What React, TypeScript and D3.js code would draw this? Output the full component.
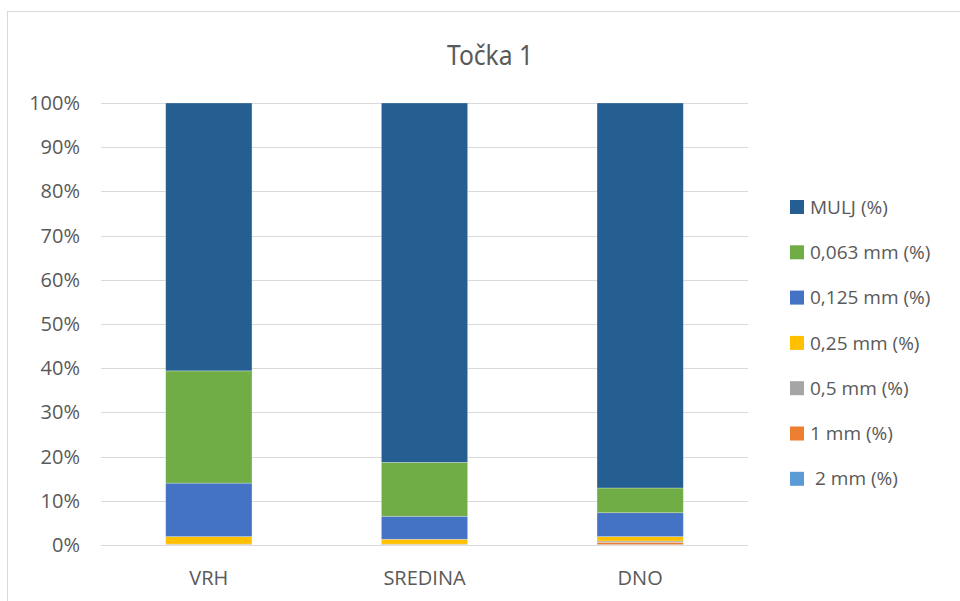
import * as d3 from "d3";
import { useEffect, useRef } from "react";

const categories = ["VRH", "SREDINA", "DNO"];
// series from bottom of the stack to the top
const seriesNames = ["2 mm (%)", "1 mm (%)", "0,5 mm (%)", "0,25 mm (%)", "0,125 mm (%)", "0,063 mm (%)", "MULJ (%)"];
const mm2 = [0.0, 0.0, 0.1];
const mm1 = [0.1, 0.1, 0.5];
const mm05 = [0.1, 0.1, 0.3];
const mm025 = [1.7, 1.1, 1.0];
const mm0125 = [12.1, 5.2, 5.4];
const mm0063 = [25.4, 12.2, 5.6];
const mulj = [60.6, 81.3, 87.1];
const colors = ["#5b9bd5", "#ed7d31", "#a5a5a5", "#ffc000", "#4472c4", "#70ad47", "#255e91"];
const tickValues = [0, 0.1, 0.2, 0.3, 0.4, 0.5, 0.6, 0.7, 0.8, 0.9, 1];

const width = 960, height = 601;
const margin = { top: 103, left: 101, bottom: 56, right: 212 };
const font = "'Open Sans', 'Noto Sans', sans-serif";

const App = () => {
  const ref = useRef<SVGSVGElement>(null);

  useEffect(() => {
    const svg = d3.select(ref.current);
    svg.selectAll("*").remove();

    const series = [mm2, mm1, mm05, mm025, mm0125, mm0063, mulj];
    const rows = categories.map((c, i) => {
      const r: any = { cat: c };
      seriesNames.forEach((s, j) => (r[s] = series[j][i]));
      return r;
    });
    const stacked = d3.stack().keys(seriesNames).offset(d3.stackOffsetExpand)(rows);

    const x = d3.scaleBand().domain(categories).range([margin.left, width - margin.right]).paddingInner(0.6).paddingOuter(0.3);
    const y = d3.scaleLinear().domain([0, 1]).range([height - margin.bottom, margin.top]);

    // chart border
    svg.append("rect").attr("x", 7.5).attr("y", 11.5).attr("width", 1000).attr("height", 700)
      .attr("fill", "#fff").attr("stroke", "#d9d9d9").attr("stroke-width", 1);

    svg.append("text").attr("x", 490).attr("y", 65).attr("text-anchor", "middle")
      .attr("font-family", "'Noto Sans', sans-serif").attr("font-size", 28).attr("fill", "#595959")
      .attr("transform", "translate(490,0) scale(0.88,1) translate(-490,0)")
      .text("Točka 1");

    const gy = svg.append("g");
    gy.selectAll("line").data(tickValues).join("line")
      .attr("x1", margin.left).attr("x2", width - margin.right)
      .attr("y1", (d) => Math.round(y(d)) + 0.5).attr("y2", (d) => Math.round(y(d)) + 0.5)
      .attr("stroke", "#d9d9d9").attr("stroke-width", 1);
    gy.selectAll("text").data(tickValues).join("text")
      .attr("x", 80).attr("y", (d) => y(d)).attr("dy", "0.35em").attr("text-anchor", "end")
      .attr("font-family", font).attr("font-size", 20).attr("fill", "#595959")
      .text((d) => d3.format(".0%")(d));

    svg.append("g").selectAll("g").data(stacked).join("g")
      .attr("fill", (d, i) => colors[i])
      .selectAll("rect").data((d) => d).join("rect")
      .attr("x", (d: any) => x(d.data.cat)!)
      .attr("width", x.bandwidth())
      .attr("y", (d) => y(d[1]))
      .attr("height", (d) => y(d[0]) - y(d[1]))
      .attr("stroke", "rgba(255,255,255,0.35)").attr("stroke-width", 0.75);

    svg.append("g").selectAll("text").data(categories).join("text")
      .attr("x", (d) => x(d)! + x.bandwidth() / 2).attr("y", 585).attr("text-anchor", "middle")
      .attr("font-family", font).attr("font-size", 20).attr("fill", "#595959")
      .text((d) => d);

    const legendOrder = seriesNames.slice().reverse();
    const lg = svg.append("g").selectAll("g").data(legendOrder).join("g")
      .attr("transform", (d, i) => `translate(790,${207 + i * 45.3})`);
    lg.append("rect").attr("x", 0).attr("y", -7).attr("width", 14).attr("height", 14)
      .attr("fill", (d) => colors[seriesNames.indexOf(d)]);
    lg.append("text").attr("x", (d) => (d.startsWith("2 mm") ? 25 : 20)).attr("y", 0).attr("dy", "0.35em")
      .attr("font-family", font).attr("font-size", 19).attr("fill", "#595959")
      .text((d) => d);
  }, []);

  return (
    <svg ref={ref} width={width} height={height} style={{ position: "absolute", left: 0, top: 0 }} />
  );
};

export default App;
